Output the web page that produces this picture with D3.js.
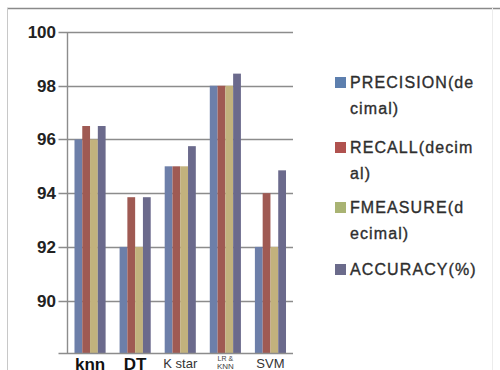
<!DOCTYPE html>
<html>
<head>
<meta charset="utf-8">
<script src="https://cdn.jsdelivr.net/npm/d3@7"></script>
<style>
  html, body { margin: 0; padding: 0; background: #fff; }
  svg { display: block; }
</style>
</head>
<body>
<svg id="chart" width="500" height="370"></svg>
<script>
// Classifier comparison data
const categories = ["knn", "DT", "K star", "LR & KNN", "SVM"];
const seriesNames = ["PRECISION(decimal)", "RECALL(decimal)", "FMEASURE(decimal)", "ACCURACY(%)"];
const precision = [96, 92, 95, 98, 92];
const recall = [96.5, 93.85, 95, 98, 94];
const fmeasure = [96, 92, 95, 98, 92];
const accuracy = [96.5, 93.85, 95.75, 98.45, 94.85];
const yTicks = [90, 92, 94, 96, 98, 100];
const legendLines = [["PRECISION(de", "cimal)"], ["RECALL(decim", "al)"], ["FMEASURE(d", "ecimal)"], ["ACCURACY(%)"]];

const seriesValues = [precision, recall, fmeasure, accuracy];
const barColors = ["#6d7fa9", "#9f5a53", "#c2b27d", "#6b6a8c"];
const keyColors = ["#5d7fae", "#b0524f", "#a9b373", "#6b6b8b"];
const FONT = "Liberation Sans, Arial, sans-serif";

const svg = d3.select("#chart");

// outer frame
svg.append("line").attr("x1", 7).attr("x2", 500).attr("y1", 8.5).attr("y2", 8.5)
  .attr("stroke", "#8a8a8a").attr("stroke-width", 1.5);
svg.append("line").attr("x1", 7.5).attr("x2", 7.5).attr("y1", 8).attr("y2", 370)
  .attr("stroke", "#c8c8c8").attr("stroke-width", 1);
svg.append("line").attr("x1", 492.5).attr("x2", 492.5).attr("y1", 8).attr("y2", 370)
  .attr("stroke", "#ececec").attr("stroke-width", 1);

const plot = { left: 67.5, right: 293, top: 32, bottom: 353 };

const x0 = d3.scaleBand().domain(categories).range([plot.left, plot.right]).paddingInner(0.31).paddingOuter(0.155);
const x1 = d3.scaleBand().domain(d3.range(seriesNames.length)).range([0, x0.bandwidth()]);
const y = d3.scaleLinear().domain([88.05, 100]).range([plot.bottom, plot.top]);

// horizontal gridlines
svg.append("g").selectAll("line").data(yTicks).join("line")
  .attr("x1", plot.left - 9).attr("x2", plot.right)
  .attr("y1", d => Math.round(y(d)) + 0.5).attr("y2", d => Math.round(y(d)) + 0.5)
  .attr("stroke", "#8c8c8c").attr("stroke-width", 1.4);

// bars
const groups = svg.append("g").selectAll("g").data(categories).join("g")
  .attr("transform", c => `translate(${x0(c)},0)`);
groups.selectAll("rect").data((c, i) => seriesValues.map((vals, s) => ({ s, v: vals[i] })))
  .join("rect")
  .attr("x", d => x1(d.s))
  .attr("width", x1.bandwidth())
  .attr("y", d => y(d.v))
  .attr("height", d => plot.bottom - y(d.v))
  .attr("fill", d => barColors[d.s]);

// axes lines
svg.append("line").attr("x1", plot.left).attr("x2", plot.left)
  .attr("y1", plot.top).attr("y2", plot.bottom)
  .attr("stroke", "#8c8c8c").attr("stroke-width", 1.4);
svg.append("line").attr("x1", plot.left - 9).attr("x2", plot.right)
  .attr("y1", plot.bottom + 0.5).attr("y2", plot.bottom + 0.5)
  .attr("stroke", "#8c8c8c").attr("stroke-width", 1.4);

// y tick labels
svg.append("g").selectAll("text").data(yTicks).join("text")
  .attr("x", 56).attr("y", d => y(d) + 6)
  .attr("text-anchor", "end")
  .attr("font-family", FONT)
  .attr("font-weight", "bold").attr("font-size", 17)
  .attr("fill", "#222")
  .text(d => d);

// category labels
const catStyle = {
  "knn": { size: 17, bold: true, y: 369.5 },
  "DT": { size: 17, bold: true, y: 369.5 },
  "K star": { size: 13, bold: false, y: 368 },
  "LR & KNN": { size: 8, bold: false, y: 369 },
  "SVM": { size: 13, bold: false, y: 368 }
};
const catG = svg.append("g").attr("font-family", FONT);
categories.forEach(c => {
  const st = catStyle[c];
  const cx = x0(c) + x0.bandwidth() / 2;
  if (c === "LR & KNN") {
    const t = catG.append("text").attr("text-anchor", "middle").attr("font-size", st.size).attr("fill", "#444");
    t.append("tspan").attr("x", cx).attr("y", st.y - 8).attr("font-size", 7).text("LR &");
    t.append("tspan").attr("x", cx).attr("y", st.y).text("KNN");
  } else {
    catG.append("text").attr("x", cx).attr("y", st.y)
      .attr("text-anchor", "middle")
      .attr("font-size", st.size)
      .attr("font-weight", st.bold ? "bold" : "normal")
      .attr("fill", st.bold ? "#111" : "#333")
      .text(c);
  }
});

// legend
const legendBase = [88, 153, 213, 275];
const leg = svg.append("g").attr("font-family", FONT).attr("font-size", 16)
  .attr("letter-spacing", 1.1).attr("fill", "#2e2e2e")
  .attr("stroke", "#2e2e2e").attr("stroke-width", 0.35);
legendLines.forEach((lines, i) => {
  leg.append("rect").attr("x", 335).attr("y", legendBase[i] - 11).attr("width", 11).attr("height", 11)
    .attr("fill", keyColors[i]).attr("stroke", "none");
  lines.forEach((ln, j) => {
    leg.append("text").attr("x", 350).attr("y", legendBase[i] + j * 26).text(ln);
  });
});
</script>
</body>
</html>
